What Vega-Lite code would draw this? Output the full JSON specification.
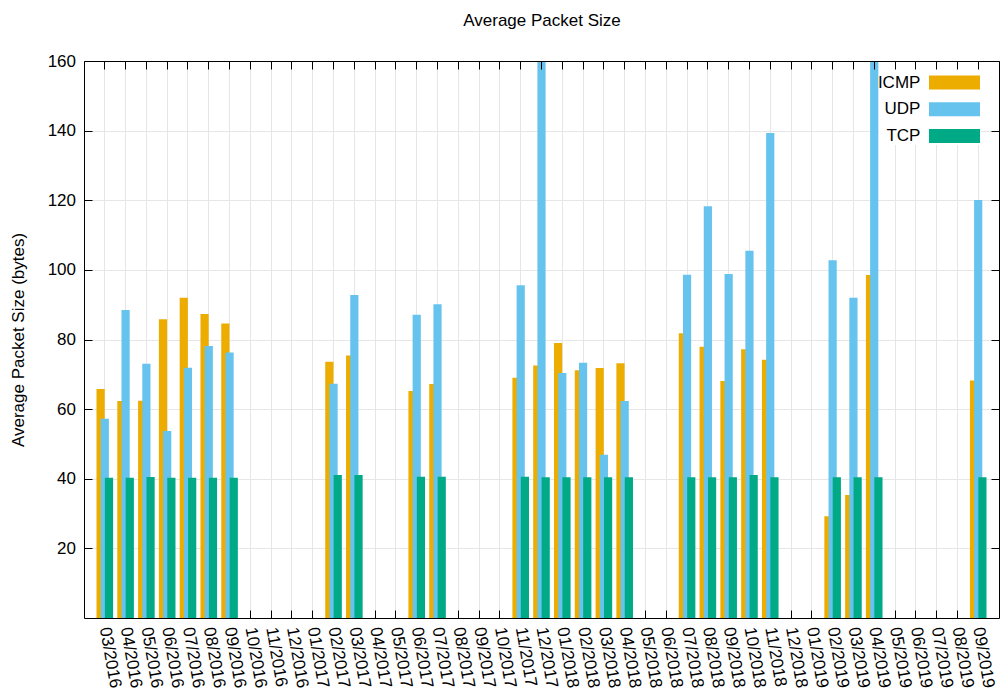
{
  "$schema": "https://vega.github.io/schema/vega-lite/v6.json",
  "width": 915,
  "height": 557,
  "autosize": {"type": "none"},
  "padding": {"left": 84, "top": 61, "right": 1, "bottom": 75},
  "background": "white",
  "config": {"view": {"stroke": null}, "font": "Liberation Sans"},
  "data": {"values": [
    {"month": "03/2016", "proto": "ICMP", "value": 65.8}, {"month": "03/2016", "proto": "UDP", "value": 57.2}, {"month": "03/2016", "proto": "TCP", "value": 40.3},
    {"month": "04/2016", "proto": "ICMP", "value": 62.3}, {"month": "04/2016", "proto": "UDP", "value": 88.5}, {"month": "04/2016", "proto": "TCP", "value": 40.3},
    {"month": "05/2016", "proto": "ICMP", "value": 62.4}, {"month": "05/2016", "proto": "UDP", "value": 73.0}, {"month": "05/2016", "proto": "TCP", "value": 40.5},
    {"month": "06/2016", "proto": "ICMP", "value": 85.8}, {"month": "06/2016", "proto": "UDP", "value": 53.7}, {"month": "06/2016", "proto": "TCP", "value": 40.3},
    {"month": "07/2016", "proto": "ICMP", "value": 92.0}, {"month": "07/2016", "proto": "UDP", "value": 71.9}, {"month": "07/2016", "proto": "TCP", "value": 40.3},
    {"month": "08/2016", "proto": "ICMP", "value": 87.3}, {"month": "08/2016", "proto": "UDP", "value": 78.1}, {"month": "08/2016", "proto": "TCP", "value": 40.3},
    {"month": "09/2016", "proto": "ICMP", "value": 84.6}, {"month": "09/2016", "proto": "UDP", "value": 76.3}, {"month": "09/2016", "proto": "TCP", "value": 40.3},
    {"month": "02/2017", "proto": "ICMP", "value": 73.6}, {"month": "02/2017", "proto": "UDP", "value": 67.3}, {"month": "02/2017", "proto": "TCP", "value": 41.1},
    {"month": "03/2017", "proto": "ICMP", "value": 75.4}, {"month": "03/2017", "proto": "UDP", "value": 92.8}, {"month": "03/2017", "proto": "TCP", "value": 41.1},
    {"month": "06/2017", "proto": "ICMP", "value": 65.2}, {"month": "06/2017", "proto": "UDP", "value": 87.1}, {"month": "06/2017", "proto": "TCP", "value": 40.6},
    {"month": "07/2017", "proto": "ICMP", "value": 67.2}, {"month": "07/2017", "proto": "UDP", "value": 90.1}, {"month": "07/2017", "proto": "TCP", "value": 40.6},
    {"month": "11/2017", "proto": "ICMP", "value": 69.0}, {"month": "11/2017", "proto": "UDP", "value": 95.6}, {"month": "11/2017", "proto": "TCP", "value": 40.6},
    {"month": "12/2017", "proto": "ICMP", "value": 72.5}, {"month": "12/2017", "proto": "UDP", "value": 175.0}, {"month": "12/2017", "proto": "TCP", "value": 40.4},
    {"month": "01/2018", "proto": "ICMP", "value": 79.0}, {"month": "01/2018", "proto": "UDP", "value": 70.4}, {"month": "01/2018", "proto": "TCP", "value": 40.4},
    {"month": "02/2018", "proto": "ICMP", "value": 71.2}, {"month": "02/2018", "proto": "UDP", "value": 73.3}, {"month": "02/2018", "proto": "TCP", "value": 40.4},
    {"month": "03/2018", "proto": "ICMP", "value": 71.8}, {"month": "03/2018", "proto": "UDP", "value": 46.9}, {"month": "03/2018", "proto": "TCP", "value": 40.4},
    {"month": "04/2018", "proto": "ICMP", "value": 73.2}, {"month": "04/2018", "proto": "UDP", "value": 62.3}, {"month": "04/2018", "proto": "TCP", "value": 40.4},
    {"month": "07/2018", "proto": "ICMP", "value": 81.8}, {"month": "07/2018", "proto": "UDP", "value": 98.6}, {"month": "07/2018", "proto": "TCP", "value": 40.4},
    {"month": "08/2018", "proto": "ICMP", "value": 77.9}, {"month": "08/2018", "proto": "UDP", "value": 118.3}, {"month": "08/2018", "proto": "TCP", "value": 40.4},
    {"month": "09/2018", "proto": "ICMP", "value": 68.1}, {"month": "09/2018", "proto": "UDP", "value": 98.8}, {"month": "09/2018", "proto": "TCP", "value": 40.4},
    {"month": "10/2018", "proto": "ICMP", "value": 77.2}, {"month": "10/2018", "proto": "UDP", "value": 105.5}, {"month": "10/2018", "proto": "TCP", "value": 41.1},
    {"month": "11/2018", "proto": "ICMP", "value": 74.2}, {"month": "11/2018", "proto": "UDP", "value": 139.3}, {"month": "11/2018", "proto": "TCP", "value": 40.4},
    {"month": "02/2019", "proto": "ICMP", "value": 29.2}, {"month": "02/2019", "proto": "UDP", "value": 102.8}, {"month": "02/2019", "proto": "TCP", "value": 40.4},
    {"month": "03/2019", "proto": "ICMP", "value": 35.3}, {"month": "03/2019", "proto": "UDP", "value": 92.0}, {"month": "03/2019", "proto": "TCP", "value": 40.4},
    {"month": "04/2019", "proto": "ICMP", "value": 98.5}, {"month": "04/2019", "proto": "UDP", "value": 180.0}, {"month": "04/2019", "proto": "TCP", "value": 40.4},
    {"month": "09/2019", "proto": "ICMP", "value": 68.2}, {"month": "09/2019", "proto": "UDP", "value": 120.1}, {"month": "09/2019", "proto": "TCP", "value": 40.4}
  ]},
  "layer": [
    {
      "transform": [{"filter": "datum.proto == 'ICMP'"}],
      "mark": {"type": "bar", "width": 8.2, "xOffset": -4.2, "clip": true},
      "encoding": {
        "x": {"field": "month", "type": "ordinal", "sort": null,
          "scale": {"domain": ["03/2016","04/2016","05/2016","06/2016","07/2016","08/2016","09/2016","10/2016","11/2016","12/2016","01/2017","02/2017","03/2017","04/2017","05/2017","06/2017","07/2017","08/2017","09/2017","10/2017","11/2017","12/2017","01/2018","02/2018","03/2018","04/2018","05/2018","06/2018","07/2018","08/2018","09/2018","10/2018","11/2018","12/2018","01/2019","02/2019","03/2019","04/2019","05/2019","06/2019","07/2019","08/2019","09/2019"], "paddingInner": 0, "paddingOuter": 0.5},
          "axis": {"orient": "bottom", "title": null, "labelAngle": 80, "labelAlign": "left", "labelBaseline": "middle", "labelFontSize": 17, "labelFont": "Liberation Sans", "labelColor": "black", "labelPadding": 17, "labelOverlap": false, "tickSize": -8, "tickColor": "black", "domainColor": "black", "grid": true, "gridColor": "#e6e6e6", "zindex": 0}
        },
        "y": {"field": "value", "type": "quantitative",
          "scale": {"domain": [0, 160], "nice": false, "zero": true},
          "axis": {"orient": "left", "title": "Average Packet Size (bytes)", "values": [20, 40, 60, 80, 100, 120, 140, 160], "labelFontSize": 17, "labelFont": "Liberation Sans", "labelColor": "black", "labelPadding": 16.5, "tickSize": -8, "tickColor": "black", "domainColor": "black", "grid": true, "gridColor": "#e6e6e6", "titleFontSize": 17, "titleFont": "Liberation Sans", "titleFontWeight": "normal", "titleColor": "black", "titlePadding": 20, "zindex": 0}
        },
        "color": {"field": "proto", "type": "nominal",
          "scale": {"domain": ["ICMP", "UDP", "TCP"], "range": ["#ecac00", "#66c3ee", "#00aa87"]},
          "legend": {"orient": "none", "legendX": 795, "legendY": 0, "title": " ", "titleFontSize": 4, "titlePadding": 9, "symbolType": "M-3.643,-1L3.643,-1L3.643,1L-3.643,1Z", "symbolSize": 196, "symbolStrokeWidth": 0, "symbolOpacity": 1, "symbolOffset": 67, "labelAlign": "right", "labelOffset": -42.6, "labelFontSize": 17, "labelFont": "Liberation Sans", "labelColor": "black", "rowPadding": 8.8, "fillColor": "white", "padding": 0}
        }
      }
    },
    {
      "transform": [{"filter": "datum.proto == 'UDP'"}],
      "mark": {"type": "bar", "width": 8.2, "xOffset": 0, "clip": true},
      "encoding": {
        "x": {"field": "month", "type": "ordinal", "sort": null, "axis": null},
        "y": {"field": "value", "type": "quantitative", "axis": null},
        "color": {"field": "proto", "type": "nominal",
          "legend": {"orient": "none", "legendX": 795, "legendY": 0, "title": " ", "titleFontSize": 4, "titlePadding": 9, "symbolType": "M-3.643,-1L3.643,-1L3.643,1L-3.643,1Z", "symbolSize": 196, "symbolStrokeWidth": 0, "symbolOpacity": 1, "symbolOffset": 67, "labelAlign": "right", "labelOffset": -42.6, "labelFontSize": 17, "labelFont": "Liberation Sans", "labelColor": "black", "rowPadding": 8.8, "fillColor": "white", "padding": 0}
        }
      }
    },
    {
      "transform": [{"filter": "datum.proto == 'TCP'"}],
      "mark": {"type": "bar", "width": 8.2, "xOffset": 4.2, "clip": true},
      "encoding": {
        "x": {"field": "month", "type": "ordinal", "sort": null,
          "axis": {"orient": "top", "title": "Average Packet Size", "titleFontSize": 17, "titleFont": "Liberation Sans", "titleFontWeight": "normal", "titleColor": "black", "titleBaseline": "alphabetic", "titlePadding": 35, "labels": false, "tickSize": -8, "tickColor": "black", "domainColor": "black", "grid": false, "zindex": 1}
        },
        "y": {"field": "value", "type": "quantitative",
          "axis": {"orient": "right", "title": null, "labels": false, "values": [20, 40, 60, 80, 100, 120, 140, 160], "tickSize": -8, "tickColor": "black", "domainColor": "black", "grid": false, "zindex": 1}
        },
        "color": {"field": "proto", "type": "nominal",
          "legend": {"orient": "none", "legendX": 795, "legendY": 0, "title": " ", "titleFontSize": 4, "titlePadding": 9, "symbolType": "M-3.643,-1L3.643,-1L3.643,1L-3.643,1Z", "symbolSize": 196, "symbolStrokeWidth": 0, "symbolOpacity": 1, "symbolOffset": 67, "labelAlign": "right", "labelOffset": -42.6, "labelFontSize": 17, "labelFont": "Liberation Sans", "labelColor": "black", "rowPadding": 8.8, "fillColor": "white", "padding": 0}
        }
      }
    }
  ],
  "resolve": {"axis": {"x": "independent", "y": "independent"}}
}
